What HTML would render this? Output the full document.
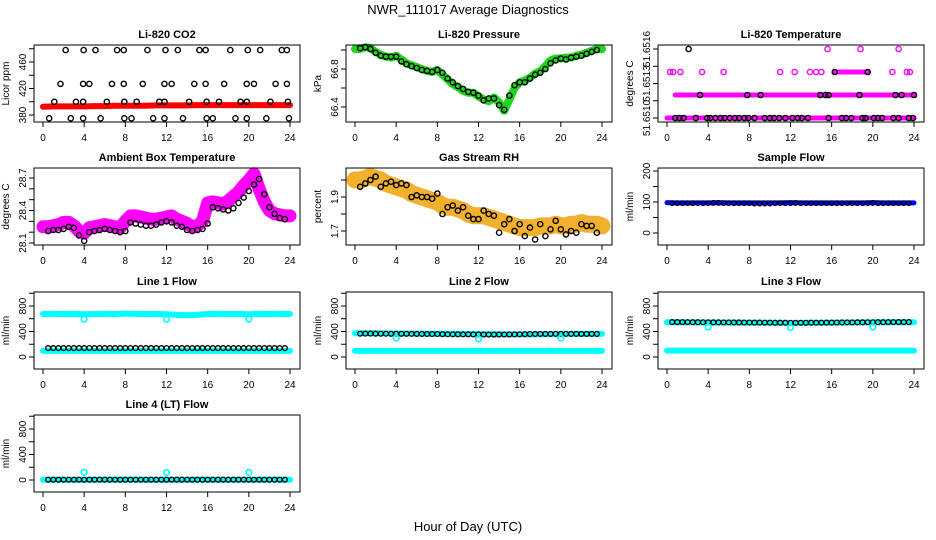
<!DOCTYPE html>
<html><head><meta charset="utf-8">
<style>
html,body{margin:0;padding:0;background:#fff;}
svg{display:block;font-family:"Liberation Sans",Arial,sans-serif;}
</style></head>
<body>
<svg id="chart" width="936" height="540" viewBox="0 0 936 540" xmlns="http://www.w3.org/2000/svg">
<rect x="0" y="0" width="936" height="540" fill="#fff"/>
<text x="468" y="14" text-anchor="middle" font-size="13">NWR_111017  Average Diagnostics</text>
<text x="468" y="531" text-anchor="middle" font-size="13">Hour of Day (UTC)</text>
</svg>
<script>
// ---------- DATA ----------
const co2Hours=[2.2,3.95,5.1,7.2,7.85,10.15,11.9,13.1,15.2,15.8,18.2,19.9,21.1,23.2,23.7,
1.7,3.9,4.5,6.7,7.85,9.7,11.8,12.5,14.7,15.8,17.6,19.8,20.5,22.6,23.7,
1.1,3.2,3.9,6.2,7.9,9.1,11.3,11.8,14.2,15.9,17.1,19.2,19.8,22.1,23.8,
0.6,2.7,3.9,5.6,7.9,8.6,10.7,11.8,13.6,15.9,16.5,18.7,19.8,21.7,23.9];
const co2Vals=[478,478,478,478,478,478,478,478,478,478,478,478,478,478,478,
427,427,427,427,427,427,427,427,427,427,427,427,427,427,427,
400,400,400,400,400,400,400,400,400,400,400,400,400,400,400,
375,375,375,375,375,375,375,375,375,375,375,375,375,375,375];
const co2Band=[392.5,393,393,393,393,393.5,393.5,394,394,394,394,394.5,394.5,394.5,394.5,395,395,395,395,395,395,395,395,395,395];

const presBand=[67.01,67.01,67.03,67.02,66.98,66.95,66.93,66.92,66.94,66.90,66.86,66.84,66.82,66.80,66.78,66.77,66.79,66.74,66.69,66.64,66.61,66.57,66.55,66.55,66.51,66.48,66.46,66.50,66.45,66.36,66.48,66.60,66.66,66.68,66.71,66.75,66.78,66.83,66.89,66.91,66.91,66.92,66.92,66.94,66.95,66.97,66.99,67.01,67.01];
const presAvg=[67.02,67.03,67.01,66.97,66.94,66.93,66.93,66.93,66.88,66.85,66.83,66.81,66.79,66.78,66.77,66.79,66.76,66.70,66.66,66.62,66.59,66.56,66.55,66.52,66.47,66.49,66.49,66.42,66.37,66.52,66.63,66.66,66.66,66.70,66.74,66.76,66.80,66.86,66.89,66.91,66.90,66.92,66.93,66.94,66.96,66.98,67.00];

const tempSegStart=[0,0.8,16.3];
const tempSegEnd=[24,24,19.5];
const tempSegLevel=[51.6510,51.6512,51.6514];
const tempMagHours=[0.3,0.6,1.3,3.4,5.5,11,12.4,13.9,14.5,15,21.9,23.3,23.6,15.6,18.8,22.5];
const tempMagVals=[51.6514,51.6514,51.6514,51.6514,51.6514,51.6514,51.6514,51.6514,51.6514,51.6514,51.6514,51.6514,51.6514,51.6516,51.6516,51.6516];
const tempAvgHours=[0.8,1.2,1.6,2.8,3.9,4.2,4.7,5.2,5.6,6.1,6.6,7.0,7.5,7.9,8.5,9.5,10,10.4,10.9,11.5,12.2,12.7,13.1,13.7,15.7,17.0,17.4,17.9,19.0,19.3,20.1,20.5,20.9,22.0,22.5,23.5,23.9,
3.2,7.8,9.1,14.9,15.4,15.7,18.7,22.2,22.8,24,16.3,19.5,2.1];
const tempAvgVals=[51.6510,51.6510,51.6510,51.6510,51.6510,51.6510,51.6510,51.6510,51.6510,51.6510,51.6510,51.6510,51.6510,51.6510,51.6510,51.6510,51.6510,51.6510,51.6510,51.6510,51.6510,51.6510,51.6510,51.6510,51.6510,51.6510,51.6510,51.6510,51.6510,51.6510,51.6510,51.6510,51.6510,51.6510,51.6510,51.6510,51.6510,
51.6512,51.6512,51.6512,51.6512,51.6512,51.6512,51.6512,51.6512,51.6512,51.6512,51.6514,51.6514,51.6516];

const ambBand=[28.25,28.25,28.26,28.27,28.29,28.29,28.26,28.21,28.19,28.24,28.25,28.26,28.27,28.26,28.25,28.24,28.30,28.35,28.35,28.34,28.33,28.32,28.32,28.33,28.34,28.35,28.32,28.30,28.28,28.25,28.26,28.30,28.47,28.48,28.47,28.46,28.49,28.53,28.57,28.63,28.68,28.74,28.60,28.48,28.40,28.37,28.36,28.35,28.35];
const ambAvg=[28.21,28.22,28.22,28.23,28.25,28.24,28.17,28.12,28.20,28.21,28.22,28.23,28.22,28.21,28.20,28.21,28.29,28.28,28.27,28.26,28.26,28.27,28.29,28.30,28.29,28.26,28.25,28.22,28.21,28.22,28.23,28.28,28.43,28.42,28.41,28.40,28.42,28.47,28.52,28.58,28.64,28.69,28.55,28.43,28.37,28.33,28.32];

const rhBand=[2.00,2.00,2.01,2.02,2.01,2.00,1.98,1.97,1.96,1.95,1.94,1.92,1.91,1.90,1.89,1.88,1.87,1.85,1.84,1.84,1.83,1.82,1.80,1.79,1.79,1.79,1.78,1.77,1.76,1.75,1.74,1.73,1.72,1.72,1.72,1.72,1.73,1.73,1.73,1.74,1.73,1.73,1.74,1.74,1.75,1.74,1.74,1.74,1.73];
const rhAvg=[1.96,1.98,2.00,2.02,1.96,1.98,1.99,1.97,1.98,1.97,1.90,1.91,1.90,1.90,1.89,1.92,1.80,1.84,1.85,1.82,1.84,1.79,1.77,1.77,1.82,1.80,1.79,1.69,1.74,1.77,1.70,1.74,1.67,1.72,1.65,1.74,1.67,1.71,1.76,1.71,1.68,1.70,1.69,1.74,1.73,1.73,1.69];

const sampBand=[98,97,97,97,97,98,97,97,97,97,97,97,98,97,97,97,97,97,97,97,98,97,97,97,97];
const sampAvg=[96,96,96,96,96,96,96,96,97,97,96,96,96,96,96,96,95,95,95,95,96,96,96,96,97,96,96,96,96,96,96,96,96,96,96,96,96,96,96,97,96,96,96,96,96,96,96];

const l1Upper=[675,676,675,676,670,675,676,675,680,676,675,675,672,660,655,662,675,676,675,675,670,676,675,676,675];
const l1Lower=[95,95,96,95,95,95,96,95,95,95,95,96,95,95,95,95,96,95,95,95,95,95,96,95,95];
const l1Avg=[140,140,140,140,140,140,140,140,141,140,140,140,140,140,140,140,141,140,140,140,140,140,140,141,140,140,140,140,140,140,140,141,140,140,140,140,140,140,140,141,140,140,140,140,140,140,140];
const dipHours=[4,12,20];
const l1Dips=[592,588,592];

const l2Upper=[372,372,371,370,368,368,367,366,365,365,364,362,360,358,357,356,355,355,358,360,362,362,362,362,362];
const l2Lower=[95,95,95,96,95,95,95,95,96,95,95,95,95,95,96,95,95,95,95,95,96,95,95,95,95];
const l2Avg=[366,367,367,366,366,365,364,365,364,364,363,362,362,361,360,360,358,357,356,356,355,356,354,354,352,352,352,352,353,354,355,356,358,360,361,362,362,362,363,363,363,363,363,362,362,362,362];
const l2Dips=[295,282,295];

const l3Upper=[545,544,543,542,541,540,540,539,538,537,536,535,534,535,536,537,538,540,541,542,543,544,545,546,546];
const l3Lower=[100,100,101,100,100,100,100,101,100,100,100,100,100,101,100,100,100,100,100,100,101,100,100,100,100];
const l3Avg=[548,548,547,547,546,546,545,545,544,544,543,543,542,542,541,541,540,540,539,539,538,538,538,537,537,537,537,538,538,539,540,540,541,542,543,543,544,544,545,545,546,546,547,547,548,548,548];
const l3Dips=[470,462,470];

const l4Band=[3,3,3,3,3,3,3,3,3,3,3,3,3,3,3,3,3,3,3,3,3,3,3,3,3];
const l4Avg=[5,5,5,5,5,5,5,5,5,5,5,5,5,5,5,5,5,5,5,5,5,5,5,5,5,5,5,5,5,5,5,5,5,5,5,5,5,5,5,5,5,5,5,5,5,5,5];
const l4Dips=[120,118,120];

const xTickVals=[0,4,8,12,16,20,24];

// ---------- LAYOUT ----------
const NS="http://www.w3.org/2000/svg";
const svg=document.getElementById('chart');
const colX0=[43,355,667], colX1=[290,602,914], boxL=[34,346,658], boxR=[300,612,924];
const rowTop=[45,168,292,415], boxH=77;

function el(tag,attrs,parent){const e=document.createElementNS(NS,tag);for(const k in attrs)e.setAttribute(k,attrs[k]);(parent||svg).appendChild(e);return e;}
function mkX(c){return h=>colX0[c]+h*(colX1[c]-colX0[c])/24;}
function mkY(v0,p0,v1,p1){return v=>p0+(v-v0)*(p1-p0)/(v1-v0);}
function gridHours(n){const a=[];for(let i=0;i<n;i++)a.push(i*24/(n-1));return a;}
function avgHours(n){const a=[];for(let i=0;i<n;i++)a.push(0.5+i*0.5);return a;}

function panel(name,c,r,title,ylab,y,ticks,labels){
  const g=el('g',{});
  
  
  const top=rowTop[r],bot=top+boxH,x=mkX(c);
  const t=el('text',{x:(boxL[c]+boxR[c])/2,y:top-7,'text-anchor':'middle','font-size':11,'font-weight':'bold'},g);
  t.textContent=title;
  
  
  const yl=el('text',{x:0,y:0,'text-anchor':'middle','font-size':10,transform:`translate(${boxL[c]-25},${top+boxH/2}) rotate(-90)`},g);
  yl.textContent=ylab;
  
  
  xTickVals.forEach(v=>{
    el('line',{x1:x(v),x2:x(v),y1:bot,y2:bot+5,stroke:'#000','stroke-width':1},g);
    const tl=el('text',{x:x(v),y:bot+19,'text-anchor':'middle','font-size':10},g);
    tl.textContent=v;
    
    
  });
  ticks.forEach(v=>{
    el('line',{x1:boxL[c]-5,x2:boxL[c],y1:y(v),y2:y(v),stroke:'#000','stroke-width':1},g);
  });
  labels.forEach(v=>{
    const tl=el('text',{x:0,y:0,'text-anchor':'middle','font-size':10,transform:`translate(${boxL[c]-8},${y(v)}) rotate(-90)`},g);
    tl.textContent=v;
    
    
  });
  const plot=el('g',{},g);
  
  
  const box=el('rect',{x:boxL[c],y:top,width:boxR[c]-boxL[c],height:boxH,fill:'none',stroke:'#000','stroke-width':1},g);
  
  
  return {g:plot,x:x,y:y};
}
function band(p,vals,color,w,nm){
  const hs=gridHours(vals.length);
  const pts=vals.map((v,i)=>p.x(hs[i]).toFixed(1)+','+p.y(v).toFixed(1)).join(' ');
  const pl=el('polyline',{points:pts,fill:'none',stroke:color,'stroke-width':w,'stroke-linejoin':'round','stroke-linecap':'round'},p.g);
  
  
}
function circles(p,hs,vals,color,nm,rad,sw){
  vals.forEach((v,i)=>{
    const cc=el('circle',{cx:p.x(hs[i]),cy:p.y(v),r:rad||2.6,fill:'none',stroke:color,'stroke-width':sw||1.4},p.g);
    
    
  });
}
function seg(p,h0,h1,v,color,w,nm){
  const l=el('line',{x1:p.x(h0),x2:p.x(h1),y1:p.y(v),y2:p.y(v),stroke:color,'stroke-width':w,'stroke-linecap':'round'},p.g);
  
  
}

// CO2
let p=panel('co2',0,0,'Li-820 CO2','Licor ppm',mkY(380,115,460,62),[380,400,420,440,460,480],[380,420,460]);
band(p,co2Band,'#ff0000',6,'co2-raw-band');
circles(p,co2Hours,co2Vals,'#000','co2-average-point');

// Pressure
p=panel('pressure',1,0,'Li-820 Pressure','kPa',mkY(66.8,69,66.4,107),[66.4,66.6,66.8,67.0],[66.4,66.8]);
band(p,presBand,'#1fd61f',8,'pressure-raw-band');
circles(p,avgHours(presAvg.length),presAvg,'#000','pressure-average-point');

// Temperature
p=panel('li820-temp',2,0,'Li-820 Temperature','degrees C',mkY(51.6510,118,51.6516,49),[51.6510,51.65115,51.6513,51.65145,51.6516],['51.6510','51.6513','51.6516']);
tempSegStart.forEach((s,i)=>seg(p,s,tempSegEnd[i],tempSegLevel[i],'#ff00ff',5,'temp-raw-segment'));
circles(p,tempMagHours,tempMagVals,'#ff00ff','temp-raw-point');
circles(p,tempAvgHours,tempAvgVals,'#000','temp-average-point');

// Ambient
p=panel('ambient-temp',0,1,'Ambient Box Temperature','degrees C',mkY(28.1,243,28.7,178),[28.1,28.2,28.3,28.4,28.5,28.6,28.7],['28.1','28.4','28.7']);
band(p,ambBand,'#ff00ff',13,'ambient-raw-band');
circles(p,avgHours(ambAvg.length),ambAvg,'#000','ambient-average-point');

// RH
p=panel('gas-rh',1,1,'Gas Stream RH','percent',mkY(1.7,231,1.9,197),[1.7,1.8,1.9,2.0],['1.7','1.9']);
band(p,rhBand,'#f2b02c',17,'rh-raw-band');
circles(p,avgHours(rhAvg.length),rhAvg,'#000','rh-average-point');

// Sample flow
p=panel('sample-flow',2,1,'Sample Flow','ml/min',mkY(0,233,200,171),[0,50,100,150,200],[0,100,200]);
band(p,sampBand,'#0000ff',5,'sample-raw-band');
circles(p,avgHours(sampAvg.length),sampAvg,'#000','sample-average-point',2.3,1.2);

// Line flows
const flowTicks=[0,200,400,600,800,1000],flowLabels=[0,400,800];
function flowPanel(nm,c,r,title,upper,lower,avg,dips){
  const off=rowTop[r]-rowTop[2];
  const q=panel(nm,c,r,title,'ml/min',mkY(0,357+off,800,306+off),flowTicks,flowLabels);
  if(upper)band(q,upper,'#00ffff',6,nm+'-upper-band');
  if(lower)band(q,lower,'#00ffff',6,nm+'-lower-band');
  circles(q,avgHours(avg.length),avg,'#000',nm+'-average-point',2.4,1.3);
  circles(q,dipHours,dips,'#00ffff',nm+'-dip-point',2.8,1.6);
}
flowPanel('line1-flow',0,2,'Line 1 Flow',l1Upper,l1Lower,l1Avg,l1Dips);
flowPanel('line2-flow',1,2,'Line 2 Flow',l2Upper,l2Lower,l2Avg,l2Dips);
flowPanel('line3-flow',2,2,'Line 3 Flow',l3Upper,l3Lower,l3Avg,l3Dips);
flowPanel('line4-flow',0,3,'Line 4 (LT) Flow',l4Band,null,l4Avg,l4Dips);
</script>
</body></html>
